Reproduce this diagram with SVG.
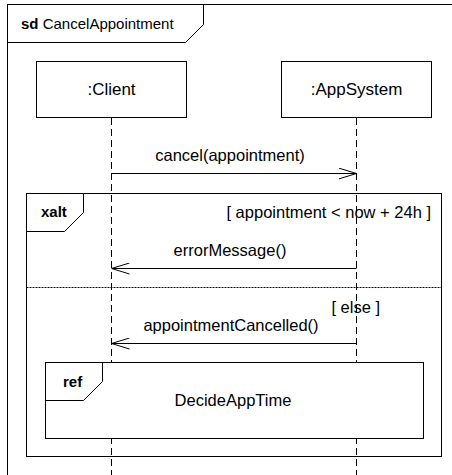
<svg xmlns="http://www.w3.org/2000/svg" width="452" height="475" viewBox="0 0 452 475">
  <style>
    text { font-family: "Liberation Sans", Arial, sans-serif; font-size: 16.5px; fill: #000; }
    .t { font-size: 15px; }
    .n { font-size: 17px; }
    .b { font-weight: bold; }
    .c { text-anchor: middle; }
    .r { text-anchor: end; }
    .frame { fill: none; stroke: #000; stroke-width: 1; }
    .box { fill: #fff; stroke: #000; stroke-width: 1; }
    .life { stroke: #000; stroke-width: 1; stroke-dasharray: 7,4; fill: none; }
    .msg { stroke: #000; stroke-width: 1; fill: none; }
    .sep { stroke: #000; stroke-width: 1; stroke-dasharray: 2,1; fill: none; }
  </style>
  <defs>
    <marker id="open" viewBox="0 0 18 12" refX="18" refY="6" markerWidth="18" markerHeight="12" markerUnits="userSpaceOnUse" orient="auto">
      <polyline points="0,0.5 18,6 0,11.5" fill="none" stroke="#000" stroke-width="1"/>
    </marker>
  </defs>
  <rect width="452" height="475" fill="#fff"/>

  <!-- sd frame -->
  <g id="frame-sd">
    <rect class="frame" x="7.5" y="4.5" width="470" height="490"/>
    <path class="frame" d="M7.5,42.5 H185.5 L203.5,24.5 V4.5"/>
    <text class="t" x="21" y="29"><tspan class="b">sd</tspan> CancelAppointment</text>
  </g>

  <!-- lifelines -->
  <g id="lifelines">
    <line class="life" x1="111.5" y1="118" x2="111.5" y2="475"/>
    <line class="life" x1="356.5" y1="118" x2="356.5" y2="475"/>
  </g>

  <g id="client">
    <rect class="box" x="36.5" y="61.5" width="150" height="56"/>
    <text class="c n" x="111.5" y="95">:Client</text>
  </g>
  <g id="appsystem">
    <rect class="box" x="281.5" y="61.5" width="150" height="56"/>
    <text class="c n" x="356.5" y="95">:AppSystem</text>
  </g>

  <!-- xalt combined fragment -->
  <g id="fragment-xalt">
    <rect class="frame" x="26.5" y="193.5" width="415" height="263"/>
    <line class="sep" x1="26.5" y1="456.5" x2="441.5" y2="456.5" stroke="#fff"/>
    <path class="frame" d="M26.5,231.5 H64.5 L83.5,212.5 V193.5"/>
    <text class="b t" x="41" y="217">xalt</text>
    <text class="r" x="431" y="218">[ appointment &lt; now + 24h ]</text>
    <line class="sep" x1="26.5" y1="287.5" x2="441.5" y2="287.5"/>
    <text class="r" x="380" y="313">[ else ]</text>
  </g>

  <!-- interaction use -->
  <g id="ref-decideapptime">
    <rect class="box" x="45.5" y="362.5" width="378" height="76"/>
    <path class="frame" d="M45.5,400.5 H83.5 L102.5,381.5 V362.5"/>
    <text class="b t" x="63" y="387">ref</text>
    <text class="c" x="233" y="406">DecideAppTime</text>
  </g>

  <!-- messages -->
  <g id="connectors">
    <line class="msg" x1="111.5" y1="173.5" x2="356.5" y2="173.5" marker-end="url(#open)"/>
    <text class="c" x="230" y="161">cancel(appointment)</text>
    <line class="msg" x1="356.5" y1="268.5" x2="111.5" y2="268.5" marker-end="url(#open)"/>
    <text class="c" x="230" y="256">errorMessage()</text>
    <line class="msg" x1="356.5" y1="343.5" x2="111.5" y2="343.5" marker-end="url(#open)"/>
    <text class="c" x="231" y="331">appointmentCancelled()</text>
  </g>
</svg>
